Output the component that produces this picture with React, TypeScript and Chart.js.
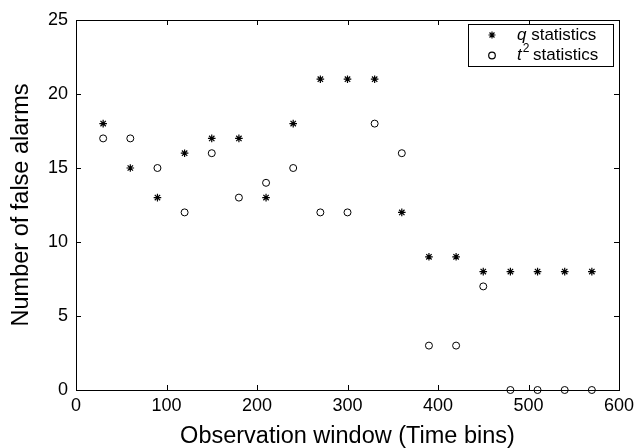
import React, { useEffect, useRef } from "react";
import { Chart, registerables } from "chart.js";

Chart.register(...registerables);

const windows = [30, 60, 90, 120, 150, 180, 210, 240, 270, 300, 330, 360, 390, 420, 450, 480, 510, 540, 570];
const qStats = [18, 15, 13, 16, 17, 17, 13, 18, 21, 21, 21, 12, 9, 9, 8, 8, 8, 8, 8];
const t2Stats = [17, 17, 15, 12, 16, 13, 14, 15, 12, 12, 18, 16, 3, 3, 7, 0, 0, 0, 0];
const xTicks = [0, 100, 200, 300, 400, 500, 600];
const yTicks = [0, 5, 10, 15, 20, 25];

const FONT = "'Liberation Sans', Arial, Helvetica, sans-serif";

const framePlugin = {
  id: "frame",
  beforeDatasetsDraw(chart: any) {
    const { ctx, chartArea, scales } = chart;
    const { left, right, top, bottom } = chartArea;
    ctx.save();
    ctx.strokeStyle = "#000";
    ctx.lineWidth = 1;
    ctx.strokeRect(Math.round(left) + 0.5, Math.round(top) + 0.5, Math.round(right - left), Math.round(bottom - top));
    const tl = 5;
    ctx.beginPath();
    xTicks.forEach((v) => {
      const x = Math.round(scales.x.getPixelForValue(v)) + 0.5;
      ctx.moveTo(x, bottom);
      ctx.lineTo(x, bottom - tl);
      ctx.moveTo(x, top);
      ctx.lineTo(x, top + tl);
    });
    yTicks.forEach((v) => {
      const y = Math.round(scales.y.getPixelForValue(v)) + 0.5;
      ctx.moveTo(left, y);
      ctx.lineTo(left + tl, y);
      ctx.moveTo(right, y);
      ctx.lineTo(right - tl, y);
    });
    ctx.stroke();
    ctx.restore();
  },
};

function drawStar(ctx: CanvasRenderingContext2D, x: number, y: number, r: number) {
  ctx.beginPath();
  for (let i = 0; i < 4; i++) {
    const a = (i * Math.PI) / 4;
    ctx.moveTo(x - r * Math.cos(a), y - r * Math.sin(a));
    ctx.lineTo(x + r * Math.cos(a), y + r * Math.sin(a));
  }
  ctx.stroke();
}

const legendPlugin = {
  id: "customLegend",
  afterDraw(chart: any) {
    const { ctx } = chart;
    const bx = 468.5, by = 24.5, bw = 145, bh = 42;
    ctx.save();
    ctx.fillStyle = "#fff";
    ctx.fillRect(bx, by, bw, bh);
    ctx.strokeStyle = "#000";
    ctx.lineWidth = 1;
    ctx.strokeRect(bx, by, bw, bh);
    const mx = 492;
    const r1y = 35, r2y = 55.5;
    ctx.lineWidth = 1.2;
    drawStar(ctx, mx, r1y, 3.5);
    ctx.beginPath();
    ctx.arc(mx, r2y, 3.3, 0, Math.PI * 2);
    ctx.stroke();
    ctx.fillStyle = "#000";
    ctx.textBaseline = "middle";
    ctx.textAlign = "left";
    const tx = 517;
    ctx.font = `italic 17px ${FONT}`;
    ctx.fillText("q", tx, r1y);
    let w = ctx.measureText("q").width;
    ctx.font = `17px ${FONT}`;
    ctx.fillText(" statistics", tx + w, r1y);
    ctx.font = `italic 17px ${FONT}`;
    ctx.fillText("t", tx, r2y);
    w = ctx.measureText("t").width;
    ctx.font = `12px ${FONT}`;
    ctx.fillText("2", tx + w + 1, r2y - 7);
    const w2 = ctx.measureText("2").width;
    ctx.font = `17px ${FONT}`;
    ctx.fillText(" statistics", tx + w + w2, r2y);
    ctx.restore();
  },
};

export default function App() {
  const ref = useRef<HTMLCanvasElement | null>(null);
  useEffect(() => {
    document.body.style.margin = "0";
    const canvas = ref.current!;
    const chart = new Chart(canvas, {
      type: "scatter",
      data: {
        datasets: [
          {
            label: "q statistics",
            data: windows.map((x, i) => ({ x, y: qStats[i] })),
            pointStyle: "star",
            pointRadius: 3.8,
            borderColor: "#000",
            backgroundColor: "#000",
            borderWidth: 1.2,
            clip: false as any,
          },
          {
            label: "t2 statistics",
            data: windows.map((x, i) => ({ x, y: t2Stats[i] })),
            pointStyle: "circle",
            pointRadius: 3.5,
            borderColor: "#000",
            backgroundColor: "rgba(0,0,0,0)",
            borderWidth: 1,
            clip: false as any,
          },
        ],
      },
      options: {
        responsive: false,
        animation: false,
        layout: { padding: { left: 0, right: 15, top: 20, bottom: 0 } },
        plugins: { legend: { display: false }, tooltip: { enabled: false } },
        scales: {
          x: {
            type: "linear",
            min: 0,
            max: 600,
            afterBuildTicks: (s: any) => {
              s.ticks = xTicks.map((v) => ({ value: v }));
            },
            afterFit: (s: any) => {
              s.height = 58;
              s.paddingLeft = 0;
              s.paddingRight = 0;
            },
            grid: { display: false, drawTicks: false },
            border: { display: false },
            ticks: { color: "#000", padding: 5, font: { family: FONT, size: 18 }, maxRotation: 0 },
            title: {
              display: true,
              text: "Observation window (Time bins)",
              color: "#000",
              font: { family: FONT, size: 23.5, lineHeight: 1 },
              padding: { top: 0, bottom: 0 },
            },
          },
          y: {
            type: "linear",
            min: 0,
            max: 25,
            afterBuildTicks: (s: any) => {
              s.ticks = yTicks.map((v) => ({ value: v }));
            },
            afterFit: (s: any) => {
              s.width = 76;
              s.paddingTop = 0;
              s.paddingBottom = 0;
            },
            grid: { display: false, drawTicks: false },
            border: { display: false },
            ticks: { color: "#000", padding: 8, font: { family: FONT, size: 18 } },
            title: {
              display: true,
              text: "Number of false alarms",
              color: "#000",
              font: { family: FONT, size: 23.5, lineHeight: 1 },
              padding: { top: 10, bottom: 0 },
            },
          },
        },
      },
      plugins: [framePlugin, legendPlugin],
    });
    return () => chart.destroy();
  }, []);
  return (
    <div style={{ position: "absolute", left: 0, top: 0, width: 634, height: 448, background: "#fff" }}>
      <canvas ref={ref} width={634} height={448} />
    </div>
  );
}
